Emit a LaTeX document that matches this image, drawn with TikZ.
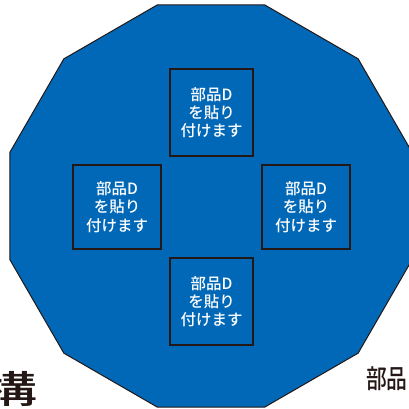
\documentclass[tikz,border=0pt]{standalone}
\usepackage{fontspec}
\newfontfamily\jp{Noto Sans CJK JP Medium}
\definecolor{polyblue}{RGB}{0,104,183}
\definecolor{inkdark}{RGB}{35,24,21}
\begin{document}
\begin{tikzpicture}[x=1pt,y=-1pt,
  partbox/.style={draw=inkdark, line width=1.1pt, fill=polyblue, text=white,
    align=center, inner sep=0pt, font=\jp\fontsize{15.5}{18.3}\selectfont},
  outside/.style={text=inkdark, inner sep=0pt}]
\useasboundingbox (0,0) rectangle (409,409);
\begin{scope}
\clip (0,0) rectangle (409,409);
\draw[draw=inkdark, line width=1pt, fill=polyblue, shift={(211,206)}]
  (15:208.1) -- (45:208.1) -- (75:208.1) -- (105:208.1) -- (135:208.1) -- (165:208.1)
  -- (195:208.1) -- (225:208.1) -- (255:208.1) -- (285:208.1) -- (315:208.1) -- (345:208.1) -- cycle;
\node[partbox, minimum width=83pt, minimum height=87pt] (top) at (211.5,112.5) {部品D\\を貼り\\付けます};
\node[partbox, minimum width=88pt, minimum height=84pt] (left) at (117,207) {部品D\\を貼り\\付けます};
\node[partbox, minimum width=88pt, minimum height=84pt] (right) at (306,207) {部品D\\を貼り\\付けます};
\node[partbox, minimum width=83pt, minimum height=87pt] (bottom) at (211.5,301.5) {部品D\\を貼り\\付けます};
\node[outside, font=\jp\fontsize{38}{40}\selectfont, xscale=1.5] (lefttext) at (9,389) {構};
\node[outside, anchor=west, font=\jp\fontsize{26}{28}\selectfont, xscale=0.8] (righttext) at (366,379) {部品};
\end{scope}
\end{tikzpicture}
\end{document}
